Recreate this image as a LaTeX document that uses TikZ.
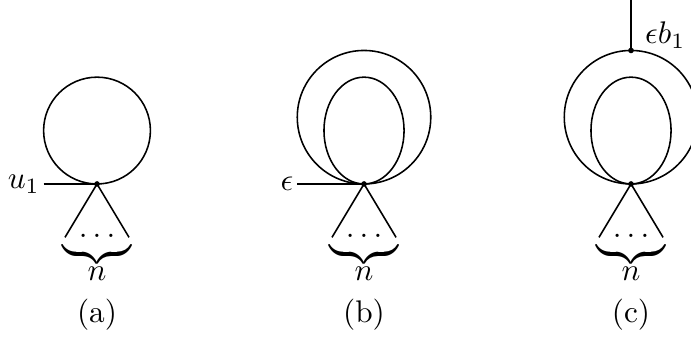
\documentclass[tikz,border=0pt]{standalone}
\usepackage{amsmath,amssymb}
\usepackage{graphicx}
\usetikzlibrary{positioning}

\newcommand{\nbrace}{\scalebox{1}[1.15]{$\underbrace{\hspace{0.78cm}}$}}

\begin{document}
\begin{tikzpicture}[
  line width=0.5pt,
  vertex/.style={circle, fill=black, inner sep=0pt, minimum size=1.8pt},
  leg/.style={font=\normalsize, inner sep=1pt},
  basebox/.style={anchor=base, inner sep=0pt},
  subcap/.style={font=\normalsize}
]
  \clip (-1.09,-1.73) rectangle (6.674,2.067);

  % (a)
  \node[vertex] (va) at (0,0) {};
  \draw (0,0.6) circle (0.6);
  \coordinate (ua) at (-0.6,0);
  \node[leg, left=0pt of ua] (lua) {$u_1$};
  \draw (ua) -- (va.center);
  \coordinate (la) at (-0.36,-0.6);
  \coordinate (ra) at (0.36,-0.6);
  \draw (la) -- (va.center) -- (ra);
  \node[basebox] (da) at (0,-0.6) {$\ldots$};
  \node[basebox] (ba) at (0,-0.64) {\nbrace};
  \node[basebox] (na) at (0,-1.08) {$n$};
  \node[subcap] (capa) at (0,-1.47) {(a)};

  % (b)
  \node[vertex] (vb) at (3,0) {};
  \draw (3,0.75) circle (0.75);
  \draw (3,0.6) ellipse (0.45 and 0.6);
  \coordinate (ub) at (2.25,0);
  \node[leg, left=0pt of ub] (lub) {$\epsilon$};
  \draw (ub) -- (vb.center);
  \coordinate (lb) at (2.64,-0.6);
  \coordinate (rb) at (3.36,-0.6);
  \draw (lb) -- (vb.center) -- (rb);
  \node[basebox] (db) at (3,-0.6) {$\ldots$};
  \node[basebox] (bb) at (3,-0.64) {\nbrace};
  \node[basebox] (nb) at (3,-1.08) {$n$};
  \node[subcap] (capb) at (3,-1.47) {(b)};

  % (c)
  \node[vertex] (vc) at (6,0) {};
  \node[vertex] (tc) at (6,1.5) {};
  \draw (6,0.75) circle (0.75);
  \draw (6,0.6) ellipse (0.45 and 0.6);
  \coordinate (uc) at (6,2.2);
  \draw (uc) -- (tc.center);
  \node[anchor=base west, inner sep=0pt] (luc) at (6.15,1.58) {$\epsilon b_1$};
  \coordinate (lc) at (5.64,-0.6);
  \coordinate (rc) at (6.36,-0.6);
  \draw (lc) -- (vc.center) -- (rc);
  \node[basebox] (dc) at (6,-0.6) {$\ldots$};
  \node[basebox] (bc) at (6,-0.64) {\nbrace};
  \node[basebox] (nc) at (6,-1.08) {$n$};
  \node[subcap] (capc) at (6,-1.47) {(c)};
\end{tikzpicture}
\end{document}
